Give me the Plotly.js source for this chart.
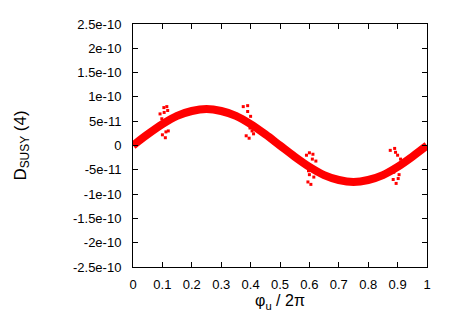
<!DOCTYPE html>
<html>
<head>
<meta charset="utf-8">
<script src="https://cdn.plot.ly/plotly-3.0.1.min.js"></script>
<style>
  html, body { margin: 0; padding: 0; background: #fff; }
  #chart { width: 458px; height: 321px; }
</style>
</head>
<body>
<div id="chart"></div>
<script>
// main band
var phi = [0, 0.05, 0.1, 0.15, 0.2, 0.25, 0.3, 0.35, 0.4, 0.45, 0.5,
           0.55, 0.6, 0.65, 0.7, 0.75, 0.8, 0.85, 0.9, 0.95, 1.0];
var dsusy = [0, 2.3e-11, 4.4e-11, 6.1e-11, 7.1e-11, 7.5e-11, 7.1e-11, 6.1e-11, 4.4e-11, 2.3e-11, 0,
             -2.3e-11, -4.4e-11, -6.1e-11, -7.1e-11, -7.5e-11, -7.1e-11, -6.1e-11, -4.4e-11, -2.3e-11, 0];

// scattered outliers near 0.1, 0.4, 0.6, 0.9
var outX = [0.092, 0.10, 0.105, 0.11, 0.115, 0.12, 0.098, 0.112, 0.118, 0.106,
            0.375, 0.385, 0.39, 0.395, 0.40, 0.405, 0.39, 0.41, 0.383, 0.398,
            0.59, 0.595, 0.60, 0.605, 0.61, 0.615, 0.622, 0.60, 0.612, 0.597,
            0.875, 0.885, 0.89, 0.895, 0.90, 0.905, 0.91, 0.893, 0.887, 0.902];
var outY = [6.5e-11, 2.2e-11, 7.8e-11, 1.6e-11, 8.0e-11, 3.0e-11, 5.5e-11, 2.8e-11, 7.2e-11, 6.8e-11,
            8.0e-11, 2.0e-11, 7.0e-11, 1.5e-11, 6.0e-11, 3.0e-11, 8.2e-11, 2.4e-11, 5.2e-11, 3.6e-11,
            -2.0e-11, -7.5e-11, -1.5e-11, -8.0e-11, -2.8e-11, -6.5e-11, -3.2e-11, -6.0e-11, -1.8e-11, -5.2e-11,
            -1.0e-11, -7.0e-11, -0.6e-11, -7.8e-11, -2.0e-11, -6.0e-11, -2.8e-11, -1.4e-11, -5.5e-11, -6.8e-11];

var xTicks = [0, 0.1, 0.2, 0.3, 0.4, 0.5, 0.6, 0.7, 0.8, 0.9, 1];
var xLabels = ['0', '0.1', '0.2', '0.3', '0.4', '0.5', '0.6', '0.7', '0.8', '0.9', '1'];
var yTicks = [2.5e-10, 2e-10, 1.5e-10, 1e-10, 5e-11, 0, -5e-11, -1e-10, -1.5e-10, -2e-10, -2.5e-10];
var yLabels = ['2.5e-10', '2e-10', '1.5e-10', '1e-10', '5e-11', '0', '-5e-11', '-1e-10', '-1.5e-10', '-2e-10', '-2.5e-10'];

var band = {
  type: 'scatter',
  x: phi,
  y: dsusy,
  mode: 'lines',
  line: { color: '#ff0000', width: 8, shape: 'spline' },
  hoverinfo: 'skip'
};

var outliers = {
  type: 'scatter',
  x: outX,
  y: outY,
  mode: 'markers',
  marker: { color: '#ff0000', size: 3, symbol: 'square' },
  hoverinfo: 'skip'
};

var axisBase = {
  showline: true,
  linecolor: '#000',
  linewidth: 1,
  mirror: 'ticks',
  ticks: 'inside',
  ticklen: 5,
  tickcolor: '#000',
  showgrid: false,
  zeroline: false,
  tickfont: { family: 'Liberation Sans, Arial, sans-serif', size: 13, color: '#000' }
};

var layout = {
  width: 458,
  height: 321,
  margin: { l: 133, r: 31, t: 24, b: 54 },
  showlegend: false,
  paper_bgcolor: '#fff',
  plot_bgcolor: '#fff',
  xaxis: Object.assign({}, axisBase, {
    range: [0, 1],
    tickmode: 'array',
    tickvals: xTicks,
    ticktext: xLabels,
    ticklabelstandoff: 5,
    title: { text: 'φ<sub>u</sub> / 2π', standoff: 4,
             font: { family: 'Liberation Sans, Arial, sans-serif', size: 16, color: '#000' } }
  }),
  yaxis: Object.assign({}, axisBase, {
    range: [-2.5e-10, 2.5e-10],
    tickmode: 'array',
    tickvals: yTicks,
    ticktext: yLabels,
    ticklabelstandoff: 8,
    title: { text: 'D<sub>SUSY</sub> (4)', standoff: 42,
             font: { family: 'Liberation Sans, Arial, sans-serif', size: 17, color: '#000' } }
  })
};

Plotly.newPlot('chart', [band, outliers], layout, { displayModeBar: false, staticPlot: true });
</script>
</body>
</html>
